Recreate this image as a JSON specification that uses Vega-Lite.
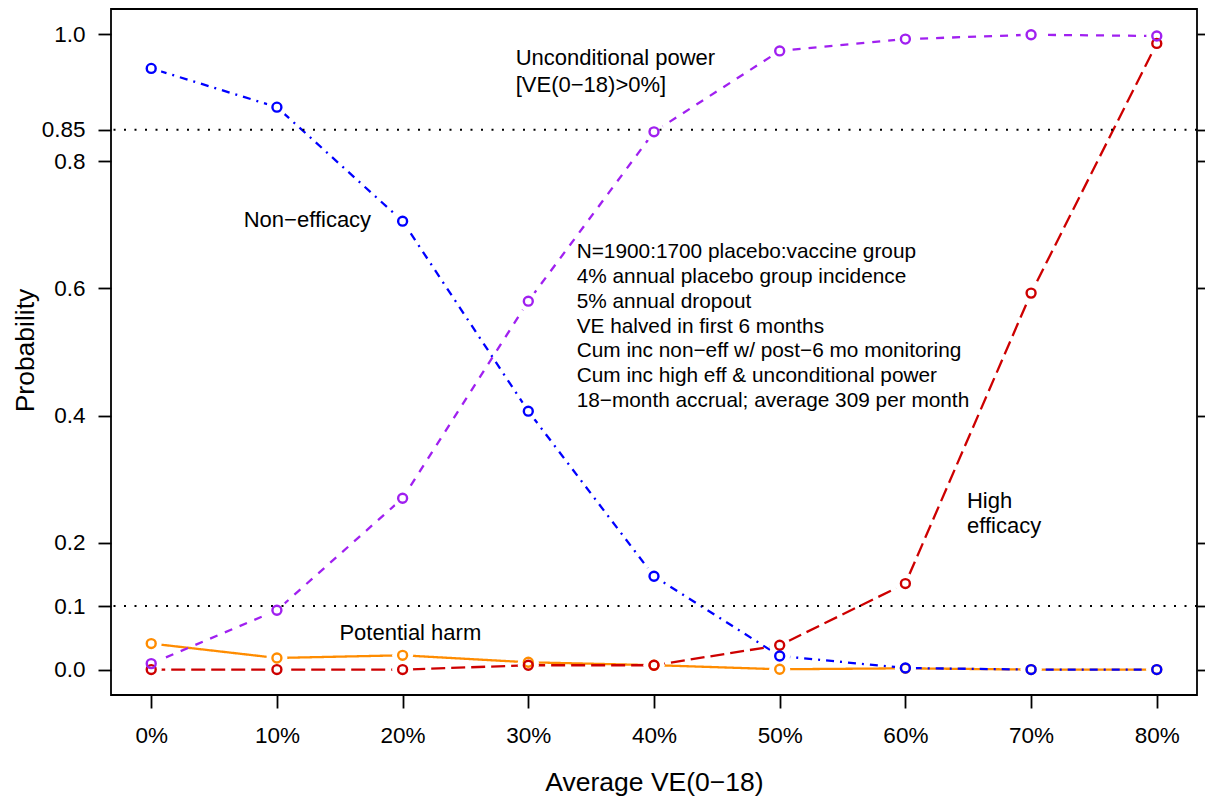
{
  "$schema": "https://vega.github.io/schema/vega-lite/v6.json",
  "width": 1086,
  "height": 686,
  "autosize": {"type": "none"},
  "padding": {"left": 111, "top": 9, "right": 8, "bottom": 104},
  "background": "white",
  "config": {
    "view": {"stroke": "black", "strokeWidth": 1.8},
    "font": "Liberation Sans",
    "axis": {
      "labelFont": "Liberation Sans",
      "titleFont": "Liberation Sans",
      "labelFontSize": 22.5,
      "titleFontSize": 26.5,
      "titleFontWeight": "normal",
      "labelColor": "black",
      "titleColor": "black",
      "tickColor": "black",
      "tickWidth": 1.8,
      "grid": false,
      "domain": false,
      "labelFlush": false,
      "labelOverlap": false,
      "labelBound": false
    }
  },
  "datasets": {
    "series": [
      {"ve": 0, "p": 0.041, "s": "Potential harm"},
      {"ve": 10, "p": 0.0183, "s": "Potential harm"},
      {"ve": 20, "p": 0.0225, "s": "Potential harm"},
      {"ve": 30, "p": 0.0115, "s": "Potential harm"},
      {"ve": 40, "p": 0.007, "s": "Potential harm"},
      {"ve": 50, "p": 0.0005, "s": "Potential harm"},
      {"ve": 60, "p": 0.002, "s": "Potential harm"},
      {"ve": 70, "p": 0.0, "s": "Potential harm"},
      {"ve": 80, "p": 0.0, "s": "Potential harm"},
      {"ve": 0, "p": 0.0, "s": "High efficacy"},
      {"ve": 10, "p": 0.0, "s": "High efficacy"},
      {"ve": 20, "p": 0.0, "s": "High efficacy"},
      {"ve": 30, "p": 0.0068, "s": "High efficacy"},
      {"ve": 40, "p": 0.0068, "s": "High efficacy"},
      {"ve": 50, "p": 0.0383, "s": "High efficacy"},
      {"ve": 60, "p": 0.1354, "s": "High efficacy"},
      {"ve": 70, "p": 0.5927, "s": "High efficacy"},
      {"ve": 80, "p": 0.9858, "s": "High efficacy"},
      {"ve": 0, "p": 0.9465, "s": "Non-efficacy"},
      {"ve": 10, "p": 0.8855, "s": "Non-efficacy"},
      {"ve": 20, "p": 0.706, "s": "Non-efficacy"},
      {"ve": 30, "p": 0.4068, "s": "Non-efficacy"},
      {"ve": 40, "p": 0.1469, "s": "Non-efficacy"},
      {"ve": 50, "p": 0.0214, "s": "Non-efficacy"},
      {"ve": 60, "p": 0.0025, "s": "Non-efficacy"},
      {"ve": 70, "p": 0.0, "s": "Non-efficacy"},
      {"ve": 80, "p": 0.0, "s": "Non-efficacy"},
      {"ve": 0, "p": 0.0094, "s": "Unconditional power"},
      {"ve": 10, "p": 0.0934, "s": "Unconditional power"},
      {"ve": 20, "p": 0.2698, "s": "Unconditional power"},
      {"ve": 30, "p": 0.58, "s": "Unconditional power"},
      {"ve": 40, "p": 0.8466, "s": "Unconditional power"},
      {"ve": 50, "p": 0.974, "s": "Unconditional power"},
      {"ve": 60, "p": 0.9926, "s": "Unconditional power"},
      {"ve": 70, "p": 0.9995, "s": "Unconditional power"},
      {"ve": 80, "p": 0.9975, "s": "Unconditional power"}
    ],
    "labels": [
      {"x": 29.0, "y": 0.9517, "t": "Unconditional power"},
      {"x": 29.0, "y": 0.9091, "t": "[VE(0−18)>0%]"},
      {"x": 7.36, "y": 0.6965, "t": "Non−efficacy"},
      {"x": 64.9, "y": 0.254, "t": "High"},
      {"x": 64.9, "y": 0.2146, "t": "efficacy"},
      {"x": 14.97, "y": 0.0461, "t": "Potential harm"}
    ],
    "block": [
      {"x": 33.85, "y": 0.6477, "t": "N=1900:1700 placebo:vaccine group"},
      {"x": 33.85, "y": 0.6085, "t": "4% annual placebo group incidence"},
      {"x": 33.85, "y": 0.5691, "t": "5% annual dropout"},
      {"x": 33.85, "y": 0.5297, "t": "VE halved in first 6 months"},
      {"x": 33.85, "y": 0.4919, "t": "Cum inc non−eff w/ post−6 mo monitoring"},
      {"x": 33.85, "y": 0.4526, "t": "Cum inc high eff & unconditional power"},
      {"x": 33.85, "y": 0.4132, "t": "18−month accrual; average 309 per month"}
    ],
    "hlines": [{"h": 0.85}, {"h": 0.1}]
  },
  "resolve": {"axis": {"y": "independent", "x": "independent"}},
  "layer": [
    {
      "data": {"name": "series"},
      "mark": {"type": "line", "strokeWidth": 2.3},
      "encoding": {
        "x": {
          "field": "ve", "type": "quantitative",
          "scale": {"domain": [-3.2, 83.2], "nice": false, "zero": false},
          "axis": {
            "orient": "bottom",
            "values": [0, 10, 20, 30, 40, 50, 60, 70, 80],
            "labelExpr": "datum.value + '%'",
            "tickSize": 13,
            "labelPadding": 16,
            "title": "Average VE(0−18)",
            "titleX": 543,
            "titleY": 95,
            "titleBaseline": "alphabetic"
          }
        },
        "y": {
          "field": "p", "type": "quantitative",
          "scale": {"domain": [-0.04, 1.04], "nice": false, "zero": false},
          "axis": {
            "orient": "left",
            "values": [0, 0.1, 0.2, 0.4, 0.6, 0.8, 0.85, 1],
            "labelExpr": "datum.value == 0.85 ? '0.85' : format(datum.value, '.1f')",
            "tickSize": 13,
            "labelPadding": 13,
            "title": "Probability",
            "titleX": -78,
            "titleY": 341,
            "titleBaseline": "alphabetic"
          }
        },
        "color": {
          "field": "s", "type": "nominal", "legend": null,
          "scale": {
            "domain": ["Potential harm", "High efficacy", "Non-efficacy", "Unconditional power"],
            "range": ["#FF8C00", "#CD0000", "#0000FF", "#A020F0"]
          }
        },
        "strokeDash": {
          "field": "s", "type": "nominal", "legend": null,
          "scale": {
            "domain": ["Potential harm", "High efficacy", "Non-efficacy", "Unconditional power"],
            "range": [[1, 0], [14, 6], [2, 6, 8, 6], [8, 8]]
          }
        }
      }
    },
    {
      "data": {"name": "series"},
      "mark": {"type": "point", "shape": "circle", "filled": true, "color": "white", "opacity": 1, "size": 440, "strokeWidth": 0},
      "encoding": {
        "x": {"field": "ve", "type": "quantitative", "axis": null},
        "y": {"field": "p", "type": "quantitative", "axis": null}
      }
    },
    {
      "data": {"name": "hlines"},
      "mark": {"type": "rule", "color": "black", "strokeWidth": 2, "strokeDash": [2, 8.5]},
      "encoding": {
        "y": {
          "field": "h", "type": "quantitative",
          "axis": {
            "orient": "right",
            "values": [0, 0.1, 0.2, 0.4, 0.6, 0.8, 0.85, 1],
            "labels": false,
            "tickSize": 13,
            "title": null
          }
        }
      }
    },
    {
      "data": {"name": "series"},
      "mark": {"type": "point", "shape": "circle", "filled": false, "fill": "transparent", "opacity": 1, "size": 80, "strokeWidth": 2.4},
      "encoding": {
        "x": {"field": "ve", "type": "quantitative", "axis": null},
        "y": {"field": "p", "type": "quantitative", "axis": null},
        "color": {"field": "s", "type": "nominal", "legend": null}
      }
    },
    {
      "data": {"name": "labels"},
      "mark": {"type": "text", "align": "left", "baseline": "alphabetic", "fontSize": 22, "font": "Liberation Sans", "color": "black"},
      "encoding": {
        "x": {"field": "x", "type": "quantitative", "axis": null},
        "y": {"field": "y", "type": "quantitative", "axis": null},
        "text": {"field": "t"}
      }
    },
    {
      "data": {"name": "block"},
      "mark": {"type": "text", "align": "left", "baseline": "alphabetic", "fontSize": 20.8, "font": "Liberation Sans", "color": "black"},
      "encoding": {
        "x": {"field": "x", "type": "quantitative", "axis": null},
        "y": {"field": "y", "type": "quantitative", "axis": null},
        "text": {"field": "t"}
      }
    }
  ]
}
